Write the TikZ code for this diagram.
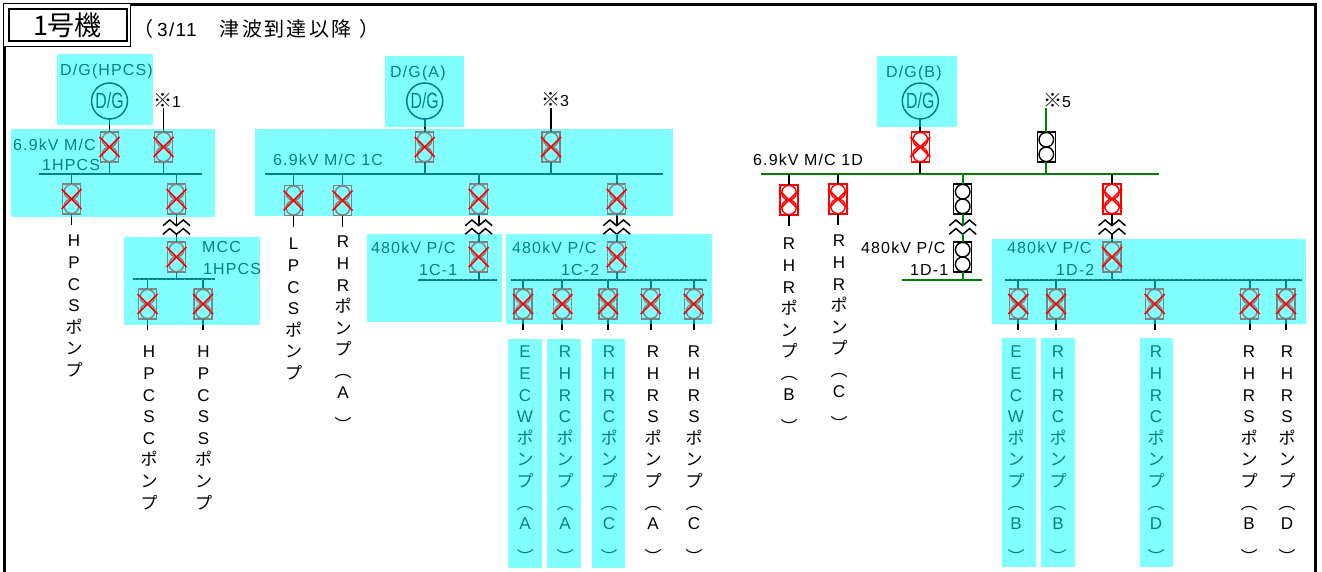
\documentclass[tikz,border=0pt]{standalone}
\usepackage{fontspec}
\usetikzlibrary{patterns.meta}
\setmainfont{Liberation Sans}
\newfontfamily\jp{Noto Sans CJK JP}
\newfontfamily\jpwide[LetterSpace=12]{Noto Sans CJK JP}
\newfontfamily\lab[LetterSpace=7]{Liberation Sans}

\definecolor{busgreen}{HTML}{008000}
\definecolor{pureblue}{HTML}{00FFFF}
\definecolor{purered}{HTML}{FF0000}

\tikzset{
    cable/.style={line width=1.8pt},
    busbar/.style={line width=2pt},
    brkbox/.style={rectangle, line width=1.5pt, fill=white, minimum width=18pt, minimum height=30pt, inner sep=0pt, outer sep=0pt},
    dgen/.style={circle, draw, line width=1.5pt, minimum size=36pt, inner sep=0pt, outer sep=0pt, fill=white, font=\fontsize{22}{22}\selectfont},
    lbl/.style={anchor=west, inner sep=0pt, font=\fontsize{16}{16}\selectfont\lab},
    vlbl/.style={anchor=north, align=center, inner sep=0pt, font=\fontsize{17}{21.6}\selectfont},
    patch/.style={fill=pureblue, fill opacity=.5, postaction={fill opacity=.6, pattern={Dots[distance=4.5pt,radius=.35pt]}, pattern color=white}},
    redx/.style={purered, line width=1.7pt},
    frameline/.style={line width=3pt},
}

% breaker: name, x, y, colour
\newcommand{\brk}[4]{
    \node[brkbox, draw=#4] (#1) at (#2,#3) {};
    \draw[#4, line width=1.4pt] ([yshift=7.3pt]#1.center) circle[radius=7.3pt];
    \draw[#4, line width=1.4pt] ([yshift=-7.3pt]#1.center) circle[radius=7.3pt];
}
% break in a feeder: name, x
\newcommand{\zig}[2]{
    \coordinate (#1) at (#2,225.7);
    \coordinate (#1b) at (#2,234.3);
    \foreach \dy in {0,8.6} {
        \draw[line width=1.5pt] ([xshift=-13.5pt,yshift=-\dy pt]#1) -- ++(6.7,-5.7) -- ++(6.8,5.7) -- ++(6.8,-5.7) -- ++(6.7,5.7);
    }
}
\newcommand{\pon}{{\jp ポ}\\{\jp ン}\\{\jp プ}}
\newcommand{\paren}[1]{\\[0pt]{\jp ︵}\\[-1pt]#1\\[12pt]{\jp ︶}}
\newcommand{\komei}{{\fontsize{19}{19}\selectfont\jp ※}}

\begin{document}
\begin{tikzpicture}[x=1pt,y=-1pt]
    \useasboundingbox (0,0) rectangle (1322,572);

    % bus bars
    \coordinate (busH) at (39,174);
    \coordinate (busHe) at (202,174);
    \coordinate (busM) at (133,279);
    \coordinate (busMe) at (215,279);
    \coordinate (busC) at (265,174);
    \coordinate (busCe) at (663,174);
    \coordinate (busCa) at (418,280);
    \coordinate (busCae) at (497,280);
    \coordinate (busCb) at (511,280);
    \coordinate (busCbe) at (707,280);
    \coordinate (busD) at (761,174.5);
    \coordinate (busDe) at (1159,174.5);
    \coordinate (busDa) at (902,279.5);
    \coordinate (busDae) at (982,279.5);
    \coordinate (busDb) at (1005,280);
    \coordinate (busDbe) at (1302,280);
    \foreach \a/\b in {busH/busHe, busM/busMe, busC/busCe, busCa/busCae, busCb/busCbe, busDb/busDbe} {
        \draw[busbar] (\a) -- (\b);
    }
    \draw[busbar, busgreen] (busD) -- (busDe);
    \draw[busbar, busgreen] (busDa) -- (busDae);

    % generators
    \node[dgen] (dgH) at (109.5,101) {\scalebox{.72}[1]{D/G}};
    \node[dgen] (dgA) at (424.7,101) {\scalebox{.72}[1]{D/G}};
    \node[dgen] (dgB) at (920.3,101) {\scalebox{.72}[1]{D/G}};

    % feeders from the generators and the other units
    \coordinate (srcA) at (163.5,108);
    \coordinate (srcB) at (551,108);
    \coordinate (srcC) at (1046.3,108);
    \brk{bH}{109.5}{147}{purered}
    \brk{bHs}{163.5}{147}{purered}
    \brk{bA}{424.7}{147}{purered}
    \brk{bAs}{551}{147}{purered}
    \brk{bB}{920.3}{147}{purered}
    \brk{bBs}{1046.3}{147}{black}
    \draw[cable] (dgH) -- (bH);
    \draw[cable] (bH) -- (bH |- busH);
    \draw[cable] (srcA) -- (bHs);
    \draw[cable] (bHs) -- (bHs |- busH);
    \draw[cable] (dgA) -- (bA);
    \draw[cable] (bA) -- (bA |- busC);
    \draw[cable] (srcB) -- (bAs);
    \draw[cable] (bAs) -- (bAs |- busC);
    \draw[cable] (dgB) -- (bB);
    \draw[cable] (bB) -- (bB |- busD);
    \draw[cable, busgreen] (srcC) -- (bBs);
    \draw[cable, busgreen] (bBs) -- (bBs |- busD);

    % outgoing pump breakers
    \foreach \nm/\px/\py/\bus in {pA/71.5/199/busH, pB/293.5/200.5/busC, pC/342.5/200.5/busC,
        pD/789/200/busD, pE/838/199/busD,
        mA/147.5/304/busM, mB/203/304/busM,
        cA/523/304/busCb, cB/562.3/304/busCb, cC/608/304/busCb, cD/650.7/304/busCb, cE/693.7/304/busCb,
        dA/1018.3/304/busDb, dB/1056/304/busDb, dC/1154.7/304/busDb, dD/1249.7/304/busDb, dE/1286/304/busDb} {
        \brk{\nm}{\px}{\py}{purered}
        \draw[cable] (\nm.north) -- (\nm.north |- \bus);
        \draw[cable] (\nm.south) -- ([yshift=-11pt]\nm.south);
    }

    % tie lines through the breaks
    \foreach \nm/\px/\busa/\busb/\col/\lin in {tA/176.5/busH/busM/purered/black, tB/478.7/busC/busCa/purered/black, tC/616.7/busC/busCb/purered/black,
        tD/962.7/busD/busDa/black/busgreen, tE/1112/busD/busDb/purered/black} {
        \brk{\nm u}{\px}{199}{\col}
        \brk{\nm l}{\px}{257}{\col}
        \zig{\nm}{\px}
        \draw[cable, \lin] (\nm u.north) -- (\nm u.north |- \busa);
        \draw[cable, \lin] (\nm u.south) -- (\nm);
        \draw[cable, \lin] (\nm b) -- (\nm l.north);
        \draw[cable, \lin] (\nm l.south) -- (\nm l.south |- \busb);
    }

    % texts of the buses
    \node[lbl] (tDgH) at (60,71) {D/G(HPCS)};
    \node[lbl] (tDgA) at (390,73) {D/G(A)};
    \node[lbl] (tDgB) at (886,73) {D/G(B)};
    \node[lbl] (tMcH) at (13,145) {6.9kV M/C};
    \node[lbl] (tMcHb) at (42,165) {1HPCS};
    \node[lbl] (tMcC) at (273,160) {6.9kV M/C 1C};
    \node[lbl] (tMcD) at (753,160) {6.9kV M/C 1D};
    \node[lbl] (tMcc) at (202,247) {MCC};
    \node[lbl] (tMccb) at (203,269) {1HPCS};
    \node[lbl] (tPcA) at (371,248) {480kV P/C};
    \node[lbl] (tPcAb) at (419,270) {1C-1};
    \node[lbl] (tPcB) at (512,248) {480kV P/C};
    \node[lbl] (tPcBb) at (561,270) {1C-2};
    \node[lbl] (tPcC) at (861,248) {480kV P/C};
    \node[lbl] (tPcCb) at (910,270) {1D-1};
    \node[lbl] (tPcD) at (1007,248) {480kV P/C};
    \node[lbl] (tPcDb) at (1056,270) {1D-2};
    \node[lbl] (tSrcA) at (153,100) {\komei 1};
    \node[lbl] (tSrcB) at (541,100) {\komei 3};
    \node[lbl] (tSrcC) at (1043,101) {\komei 5};

    % pump names
    \node[vlbl] (nA) at (74,235) {H\\P\\C\\S\\\pon};
    \node[vlbl] (nB) at (149,346) {H\\P\\C\\S\\C\\\pon};
    \node[vlbl] (nC) at (203.5,346) {H\\P\\C\\S\\S\\\pon};
    \node[vlbl] (nD) at (293.5,238) {L\\P\\C\\S\\\pon};
    \node[vlbl] (nE) at (343,236) {R\\H\\R\\\pon\paren{A}};
    \node[vlbl] (nF) at (789,238) {R\\H\\R\\\pon\paren{B}};
    \node[vlbl] (nG) at (839,235) {R\\H\\R\\\pon\paren{C}};
    \foreach \nm/\px/\head/\unit in {nH/525/{E\\E\\C\\W}/A, nI/565/{R\\H\\R\\C}/A, nJ/609/{R\\H\\R\\C}/C, nK/653/{R\\H\\R\\S}/A, nL/694/{R\\H\\R\\S}/C,
        nM/1016/{E\\E\\C\\W}/B, nN/1058/{R\\H\\R\\C}/B, nO/1156/{R\\H\\R\\C}/D, nP/1249/{R\\H\\R\\S}/B, nQ/1287/{R\\H\\R\\S}/D} {
        \node[vlbl] (\nm) at (\px,346) {\head\\\pon\paren{\unit}};
    }

    % cyan areas laid over the drawing
    \foreach \xa/\ya/\xb/\yb in {57/54/153/125, 11/129/215/217, 255/129/673/216, 385/56/464/127, 124/237/260/325,
        367/234/502/322, 506/234/712/324, 877/56/957/127, 992/239/1306/324,
        508/339/542/568, 547/339/581/568, 592/339/625/568, 1002/338/1036/567, 1041/338/1075/567, 1140/338/1173/567} {
        \path[patch] (\xa,\ya) rectangle (\xb,\yb);
    }

    % breakers that are out of service
    \foreach \nm in {bH, bHs, bA, bAs, bB, pA, pB, pC, pD, pE, mA, mB, cA, cB, cC, cD, cE, dA, dB, dC, dD, dE, tAu, tAl, tBu, tBl, tCu, tCl, tEu, tEl} {
        \draw[redx] ([shift={(-10pt,10pt)}]\nm.center) -- ([shift={(10pt,-10pt)}]\nm.center);
        \draw[redx] ([shift={(-10pt,-10pt)}]\nm.center) -- ([shift={(10pt,10pt)}]\nm.center);
    }

    % frame and title
    \coordinate (frA) at (4.5,572);
    \coordinate (frB) at (4.5,4.5);
    \coordinate (frC) at (1315.5,4.5);
    \coordinate (frD) at (1315.5,572);
    \draw[frameline] (frA) -- (frB) -- (frC) -- (frD);
    \node[draw, line width=1.5pt, fill=white, minimum width=127pt, minimum height=43pt, inner sep=0pt] (ttlO) at (67,25) {};
    \node[draw, line width=2pt, minimum width=118pt, minimum height=32pt, inner sep=0pt, font=\fontsize{27}{27}\selectfont\jp] (ttl) at (67.5,25) {1号機};
    \node[anchor=west, inner sep=0pt, font=\fontsize{20}{20}\selectfont\jpwide] (ttlNote) at (133,29) {（\hspace{4pt}{\fontsize{19}{19}\selectfont\lab 3/11}\hspace{23pt}津波到達以降\hspace{8pt}）};
\end{tikzpicture}
\end{document}
